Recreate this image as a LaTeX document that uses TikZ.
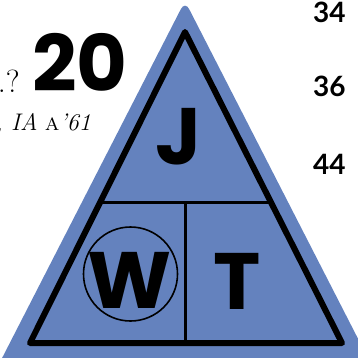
\documentclass[tikz,border=0pt]{standalone}
\usepackage{fontspec}
\usetikzlibrary{positioning, calc}
\newfontfamily\letterfont{Poppins}
\newfontfamily\pagefont{Lato}
\definecolor{triBlue}{HTML}{6482BE}
\definecolor{inkBlack}{HTML}{000000}

\begin{document}
\begin{tikzpicture}[
    x=1pt, y=-1pt,
    letter/.style={
        font=\letterfont\bfseries\fontsize{80}{80}\selectfont,
        text=inkBlack, inner sep=0pt
    },
    pagenum/.style={
        font=\pagefont\bfseries\fontsize{28}{28}\selectfont,
        text=inkBlack, inner sep=0pt, anchor=north west
    },
    outline/.style={draw=inkBlack, line width=6pt, line join=round},
    divider/.style={draw=inkBlack, line width=3.6pt},
]
\useasboundingbox (0,0) rectangle (357,358);

% ============================================================
%  TEXT ON THE PAGE
% ============================================================
\node[font=\letterfont\bfseries\fontsize{78}{78}\selectfont,
      inner sep=0pt, text depth=0pt, anchor=base west] (issue) at (32,92) {20};
\node[inner sep=0pt, anchor=base east] (query) at (20,93)
    {\fontsize{32}{32}\selectfont .?};
\node[inner sep=0pt, anchor=base east] (credit) at (91,131)
    {\fontsize{24}{24}\selectfont\textit{, IA} \textsc{a}\textit{'61}};

\node[pagenum] (p34) at (313,2) {34};
\node[pagenum, below=53pt of p34.south west, anchor=north west] (p36) {36};
\node[pagenum, below=57pt of p36.south west, anchor=north west] (p44) {44};

% ============================================================
%  TRIANGLE
% ============================================================
\coordinate (apex) at (185,1);
\coordinate (baseL) at (-2,366);
\coordinate (baseR) at (372,366);
\fill[triBlue, rounded corners=9pt] (apex) -- (baseR) -- (baseL) -- cycle;

\coordinate (inA) at (185,32);
\coordinate (inL) at (30,343);
\coordinate (inR) at (342,343);
\coordinate (midL) at ($(inA)!0.548!(inL)$);
\coordinate (midR) at ($(inA)!0.548!(inR)$);
\coordinate (splitTop) at ($(midL)!0.5!(midR)$);
\coordinate (splitBot) at (splitTop |- inL);

\draw[divider] (midL) -- (midR);
\draw[divider] (splitTop) -- (splitBot);
\draw[outline] (inA) -- (inR) -- (inL) -- cycle;

% ============================================================
%  LETTERS
% ============================================================
\node[letter] (J) at (179,137) {J};
\node[letter] (W) at (130,280) {W};
\node[letter] (T) at (237,281) {T};
\node[draw=inkBlack, line width=1.6pt, circle,
      minimum size=94pt, inner sep=0pt] (ring) at (130.5,274) {};

\end{tikzpicture}
\end{document}
